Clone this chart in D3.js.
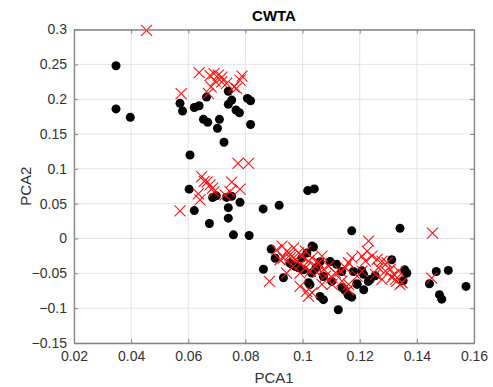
<!DOCTYPE html>
<html>
<head>
<meta charset="utf-8">
<script src="https://cdn.jsdelivr.net/npm/d3@7"></script>
<style>
  body { margin: 0; background: #fff; }
  svg { font-family: "Liberation Sans", Arial, sans-serif; }
</style>
</head>
<body>
<script>
    // Black dots (series 1)
    var dotX = [0.0347, 0.0347, 0.0397, 0.0571, 0.0580, 0.0621, 0.0638, 0.0664, 0.0653, 0.0668,
                0.0709, 0.0702, 0.0725, 0.0740, 0.0752, 0.0740, 0.0767, 0.0779, 0.0807, 0.0818,
                0.0818, 0.0606, 0.0603, 0.0621, 0.0674, 0.0685, 0.0698, 0.0734, 0.0752, 0.0740,
                0.0740, 0.0781, 0.0758, 0.0813, 0.0862, 0.0918, 0.1018, 0.1041, 0.1172, 0.1341,
                0.0863, 0.0890, 0.0904, 0.0933, 0.0956, 0.0997, 0.1015, 0.1038, 0.1026, 0.1061,
                0.1073, 0.1096, 0.1119, 0.1137, 0.1125, 0.1147, 0.1160, 0.1172, 0.1190, 0.1207,
                0.1213, 0.1214, 0.1230, 0.1254, 0.1312, 0.1357, 0.1365, 0.1352, 0.1444, 0.1468,
                0.1510, 0.1479, 0.1487, 0.1572, 0.1073, 0.1102, 0.1032, 0.0974, 0.1003, 0.1178,
                0.1061, 0.1047, 0.1021, 0.1138, 0.1191, 0.1237, 0.0963, 0.0986, 0.1033];
    var dotY = [0.248, 0.186, 0.174, 0.194, 0.183, 0.188, 0.1905, 0.203, 0.171, 0.1668,
                0.171, 0.1582, 0.1381, 0.2113, 0.1987, 0.1926, 0.1844, 0.1805, 0.2011, 0.1977,
                0.1636, 0.1199, 0.0708, 0.0401, 0.0215, 0.0587, 0.0612, 0.0590, 0.0605, 0.0443,
                0.0292, 0.0519, 0.0053, 0.0043, 0.0425, 0.0478, 0.0688, 0.0712, 0.011, 0.0146,
                -0.0441, -0.0152, -0.0284, -0.0563, -0.0352, -0.0281, -0.0209, -0.0122, -0.0663, -0.0831,
                -0.0878, -0.0330, -0.0370, -0.0473, -0.1022, -0.0735, -0.0814, -0.0842, -0.0649, -0.0463,
                -0.0513, -0.0735, -0.0616, -0.0534, -0.0305, -0.0448, -0.0496, -0.0606, -0.0649, -0.0473,
                -0.0458, -0.0806, -0.0871, -0.0688, -0.0545, -0.0616, -0.0496, -0.0401, -0.0448, -0.0473,
                -0.0333, -0.042, -0.0635, -0.0706, -0.0659, -0.0587, -0.0372, -0.0420, -0.0109];

    // Red crosses (series 2)
    var crossX = [0.0454, 0.0575, 0.0638, 0.0676, 0.0690, 0.0705, 0.0718, 0.0694, 0.0680, 0.0670,
                  0.0734, 0.0760, 0.0781, 0.0788, 0.0717, 0.0769,
                  0.0571, 0.0647, 0.0656, 0.0635, 0.0641, 0.0676, 0.0685, 0.0729, 0.0746, 0.0752,
                  0.0781, 0.0774, 0.0811, 0.0666, 0.0690,
                  0.0884, 0.0909, 0.0921, 0.0944, 0.0968, 0.0991, 0.0991, 0.1014, 0.1160, 0.1452,
                  0.1455, 0.1341, 0.1329, 0.0933, 0.0956,
                  0.0928, 0.0946, 0.0969, 0.0986, 0.0957, 0.0975, 0.0998, 0.1010, 0.1021, 0.1033,
                  0.0992, 0.1010, 0.1045, 0.1056, 0.1068, 0.1027, 0.1051, 0.1074, 0.1091, 0.1080,
                  0.1103, 0.1115, 0.1132, 0.1150, 0.1161, 0.1173, 0.1138, 0.1161, 0.1191, 0.1208,
                  0.1103, 0.1068, 0.1033, 0.1021, 0.1161,
                  0.1231, 0.1226, 0.1243, 0.1261, 0.1278, 0.1296, 0.1266, 0.1290, 0.1307, 0.1319,
                  0.1336, 0.1325, 0.1348, 0.1313, 0.1255, 0.1278, 0.1208, 0.1220];
    var crossY = [0.2989, 0.208, 0.2381, 0.2338, 0.2367, 0.2345, 0.2317, 0.2259, 0.2178, 0.2083,
                  0.2226, 0.2178, 0.2274, 0.2331, 0.2249, 0.2155,
                  0.0395, 0.0888, 0.0820, 0.0640, 0.0554, 0.0769, 0.0722, 0.0626, 0.0673, 0.0809,
                  0.0708, 0.1077, 0.1077, 0.0812, 0.0669,
                  -0.0616, -0.0162, -0.0305, -0.0496, -0.0401, -0.0496, -0.0688, -0.0759, -0.0735, -0.0568,
                  0.0077, -0.0663, -0.0616, -0.0281, -0.0234,
                  -0.0109, -0.0181, -0.0133, -0.0205, -0.0277, -0.0300, -0.0253, -0.0181, -0.0324, -0.0277,
                  -0.0372, -0.0420, -0.0396, -0.0348, -0.0253, -0.0468, -0.0491, -0.0444, -0.0396, -0.0539,
                  -0.0563, -0.0491, -0.0468, -0.0420, -0.0348, -0.0277, -0.0611, -0.0659, -0.0539, -0.0468,
                  -0.0659, -0.0659, -0.0778, -0.0826, -0.0730,
                  -0.0038, -0.0181, -0.0253, -0.0300, -0.0324, -0.0348, -0.0420, -0.0468, -0.0444, -0.0515,
                  -0.0468, -0.0587, -0.0635, -0.0563, -0.0515, -0.0587, -0.0253, -0.0324];

    var xTicks = [0.02, 0.04, 0.06, 0.08, 0.1, 0.12, 0.14, 0.16];
    var yTicks = [-0.15, -0.1, -0.05, 0, 0.05, 0.1, 0.15, 0.2, 0.25, 0.3];

    var margin = {top: 29.5, right: 19, bottom: 44, left: 74};
    var width = 493 - margin.left - margin.right;
    var height = 387 - margin.top - margin.bottom;

    var svg = d3.select("body").append("svg")
                .attr("width", 493)
                .attr("height", 387);

    var g = svg.append("g")
               .attr("transform", "translate(" + margin.left + "," + margin.top + ")");

    var xScale = d3.scaleLinear().domain([0.02, 0.16]).range([0, width]);
    var yScale = d3.scaleLinear().domain([-0.15, 0.3]).range([height, 0]);

    // grid
    g.append("g").selectAll("line")
     .data(xTicks)
     .enter().append("line")
     .attr("x1", function (d) { return xScale(d); })
     .attr("x2", function (d) { return xScale(d); })
     .attr("y1", 0).attr("y2", height)
     .attr("stroke", "#e3e3e3").attr("stroke-width", 1);

    g.append("g").selectAll("line")
     .data(yTicks)
     .enter().append("line")
     .attr("y1", function (d) { return yScale(d); })
     .attr("y2", function (d) { return yScale(d); })
     .attr("x1", 0).attr("x2", width)
     .attr("stroke", "#e3e3e3").attr("stroke-width", 1);

    // black dots
    g.append("g").selectAll("circle")
     .data(dotX.map(function (d, i) { return [d, dotY[i]]; }))
     .enter().append("circle")
     .attr("cx", function (d) { return xScale(d[0]); })
     .attr("cy", function (d) { return yScale(d[1]); })
     .attr("r", 4.5)
     .attr("fill", "#000");

    // red crosses, drawn on top
    var s = 5.5;
    g.append("g").selectAll("path")
     .data(crossX.map(function (d, i) { return [d, crossY[i]]; }))
     .enter().append("path")
     .attr("d", function (d) {
         var cx = xScale(d[0]), cy = yScale(d[1]);
         return "M" + (cx - s) + "," + (cy - s) + "L" + (cx + s) + "," + (cy + s) +
                "M" + (cx - s) + "," + (cy + s) + "L" + (cx + s) + "," + (cy - s);
     })
     .attr("stroke", "#ff1010")
     .attr("stroke-width", 1.1)
     .attr("fill", "none");

    // axes
    var tickFmt = function (d) { return d3.format("~g")(+d.toFixed(2)); };

    var xAxis = g.append("g")
     .attr("transform", "translate(0," + height + ")")
     .call(d3.axisBottom(xScale).tickValues(xTicks).tickSizeInner(-4).tickSizeOuter(0).tickPadding(8).tickFormat(tickFmt));
    var xAxisTop = g.append("g")
     .call(d3.axisTop(xScale).tickValues(xTicks).tickSizeInner(-4).tickSizeOuter(0).tickFormat(""));
    var yAxis = g.append("g")
     .call(d3.axisLeft(yScale).tickValues(yTicks).tickSizeInner(-4).tickSizeOuter(0).tickPadding(7).tickFormat(tickFmt));
    var yAxisRight = g.append("g")
     .attr("transform", "translate(" + width + ",0)")
     .call(d3.axisRight(yScale).tickValues(yTicks).tickSizeInner(-4).tickSizeOuter(0).tickFormat(""));

    [xAxis, xAxisTop, yAxis, yAxisRight].forEach(function (a) {
        a.select(".domain").attr("stroke", "#858585").attr("stroke-width", 1.3);
        a.selectAll(".tick line").attr("stroke", "#858585");
        a.selectAll("text").attr("fill", "#333").style("font-size", "14px")
         .style("font-family", "'Liberation Sans', Arial, sans-serif");
    });

    // title and labels
    svg.append("text")
       .attr("x", margin.left + width / 2)
       .attr("y", 20.5)
       .attr("text-anchor", "middle")
       .style("font-size", "15px")
       .style("font-weight", "bold")
       .attr("fill", "#000")
       .text("CWTA");

    svg.append("text")
       .attr("x", margin.left + width / 2)
       .attr("y", 383)
       .attr("text-anchor", "middle")
       .style("font-size", "15px")
       .attr("fill", "#333")
       .text("PCA1");

    svg.append("text")
       .attr("transform", "translate(31," + (margin.top + height / 2) + ") rotate(-90)")
       .attr("text-anchor", "middle")
       .style("font-size", "15px")
       .attr("fill", "#333")
       .text("PCA2");
</script>
</body>
</html>
